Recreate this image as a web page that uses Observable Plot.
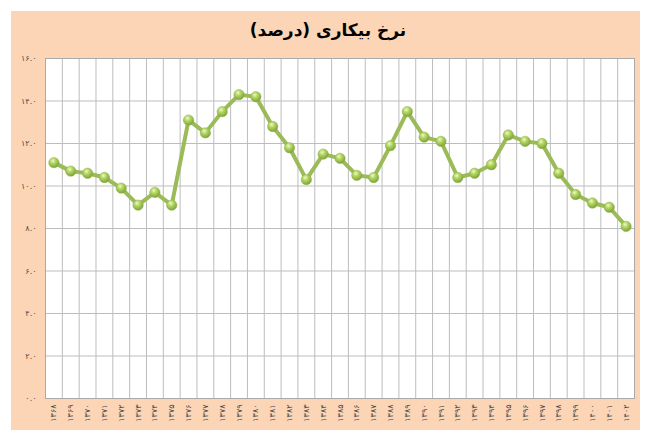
<!DOCTYPE html>
<html>
<head>
<meta charset="utf-8">
<script src="https://cdn.jsdelivr.net/npm/d3@7"></script>
<script src="https://cdn.jsdelivr.net/npm/@observablehq/plot@0.6"></script>
<style>
  html, body { margin: 0; padding: 0; background: #ffffff; }
  #wrap { position: relative; width: 660px; height: 444px; overflow: hidden; }
  #panel { position: absolute; left: 11px; top: 11px; width: 629px; height: 419px; background: #fbd5b5; }
  #title { position: absolute; left: 11px; top: 20px; width: 634px; text-align: center;
           font-family: "DejaVu Sans", sans-serif; font-weight: bold; font-size: 17px; color: #000; direction: rtl; }
  #chart { position: absolute; left: 0; top: 0; }
</style>
</head>
<body>
<div id="wrap">
  <div id="panel"></div>
  <div id="title">نرخ بیکاری (درصد)</div>
  <div id="chart"></div>
</div>
<script>
const years = ["۱۳۶۸","۱۳۶۹","۱۳۷۰","۱۳۷۱","۱۳۷۲","۱۳۷۳","۱۳۷۴","۱۳۷۵","۱۳۷۶","۱۳۷۷",
  "۱۳۷۸","۱۳۷۹","۱۳۸۰","۱۳۸۱","۱۳۸۲","۱۳۸۳","۱۳۸۴","۱۳۸۵","۱۳۸۶","۱۳۸۷",
  "۱۳۸۸","۱۳۸۹","۱۳۹۰","۱۳۹۱","۱۳۹۲","۱۳۹۳","۱۳۹۴","۱۳۹۵","۱۳۹۶","۱۳۹۷",
  "۱۳۹۸","۱۳۹۹","۱۴۰۰","۱۴۰۱","۱۴۰۲"];
const rates = [11.1, 10.7, 10.6, 10.4, 9.9, 9.1, 9.7, 9.1, 13.1, 12.5,
  13.5, 14.3, 14.2, 12.8, 11.8, 10.3, 11.5, 11.3, 10.5, 10.4,
  11.9, 13.5, 12.3, 12.1, 10.4, 10.6, 11.0, 12.4, 12.1, 12.0,
  10.6, 9.6, 9.2, 9.0, 8.1];
const yTicks = [0, 2, 4, 6, 8, 10, 12, 14, 16];
const yTickLabels = ["۰.۰","۲.۰","۴.۰","۶.۰","۸.۰","۱۰.۰","۱۲.۰","۱۴.۰","۱۶.۰"];

const data = years.map((y, i) => ({pos: i + 0.5, label: y, value: rates[i]}));
const n = years.length;

const plot = Plot.plot({
  width: 660,
  height: 444,
  marginLeft: 45,
  marginRight: 26,
  marginTop: 58,
  marginBottom: 46,
  style: {background: "transparent", fontFamily: "DejaVu Sans, sans-serif"},
  x: {type: "linear", domain: [0, n], label: null},
  y: {domain: [0, 16], label: null},
  marks: [
    Plot.frame({fill: "white", stroke: "none"}),
    Plot.ruleX(d3.range(1, n), {stroke: "#bdbdbd", strokeWidth: 1}),
    Plot.ruleY(yTicks, {stroke: "#bdbdbd", strokeWidth: 1}),
    Plot.frame({stroke: "#aaaaaa", strokeWidth: 1}),
    Plot.axisY({ticks: yTicks, label: null, tickSize: 0, tickPadding: 9, fontSize: 8, fill: "#4a4a4a",
      tickFormat: d => yTickLabels[yTicks.indexOf(d)]}),
    Plot.axisX({ticks: data.map(d => d.pos), label: null, tickSize: 0, tickPadding: 6, tickRotate: -90, fontSize: 8, fill: "#4a4a4a",
      tickFormat: d => years[Math.floor(d)]}),
    Plot.line(data, {x: "pos", y: "value", stroke: "#9bbb59", strokeWidth: 4, strokeLinejoin: "round"}),
    Plot.dot(data, {x: "pos", y: "value", r: 5.2, fill: "url(#dotGrad)", stroke: "#8cb048", strokeWidth: 0.5})
  ]
});

const defs = d3.select(plot).insert("defs", ":first-child");
const g = defs.append("radialGradient").attr("id", "dotGrad")
  .attr("cx", "40%").attr("cy", "32%").attr("r", "68%");
g.append("stop").attr("offset", "0%").attr("stop-color", "#eef8c8");
g.append("stop").attr("offset", "40%").attr("stop-color", "#b2d562");
g.append("stop").attr("offset", "100%").attr("stop-color", "#7fa23a");

document.getElementById("chart").appendChild(plot);
</script>
</body>
</html>
